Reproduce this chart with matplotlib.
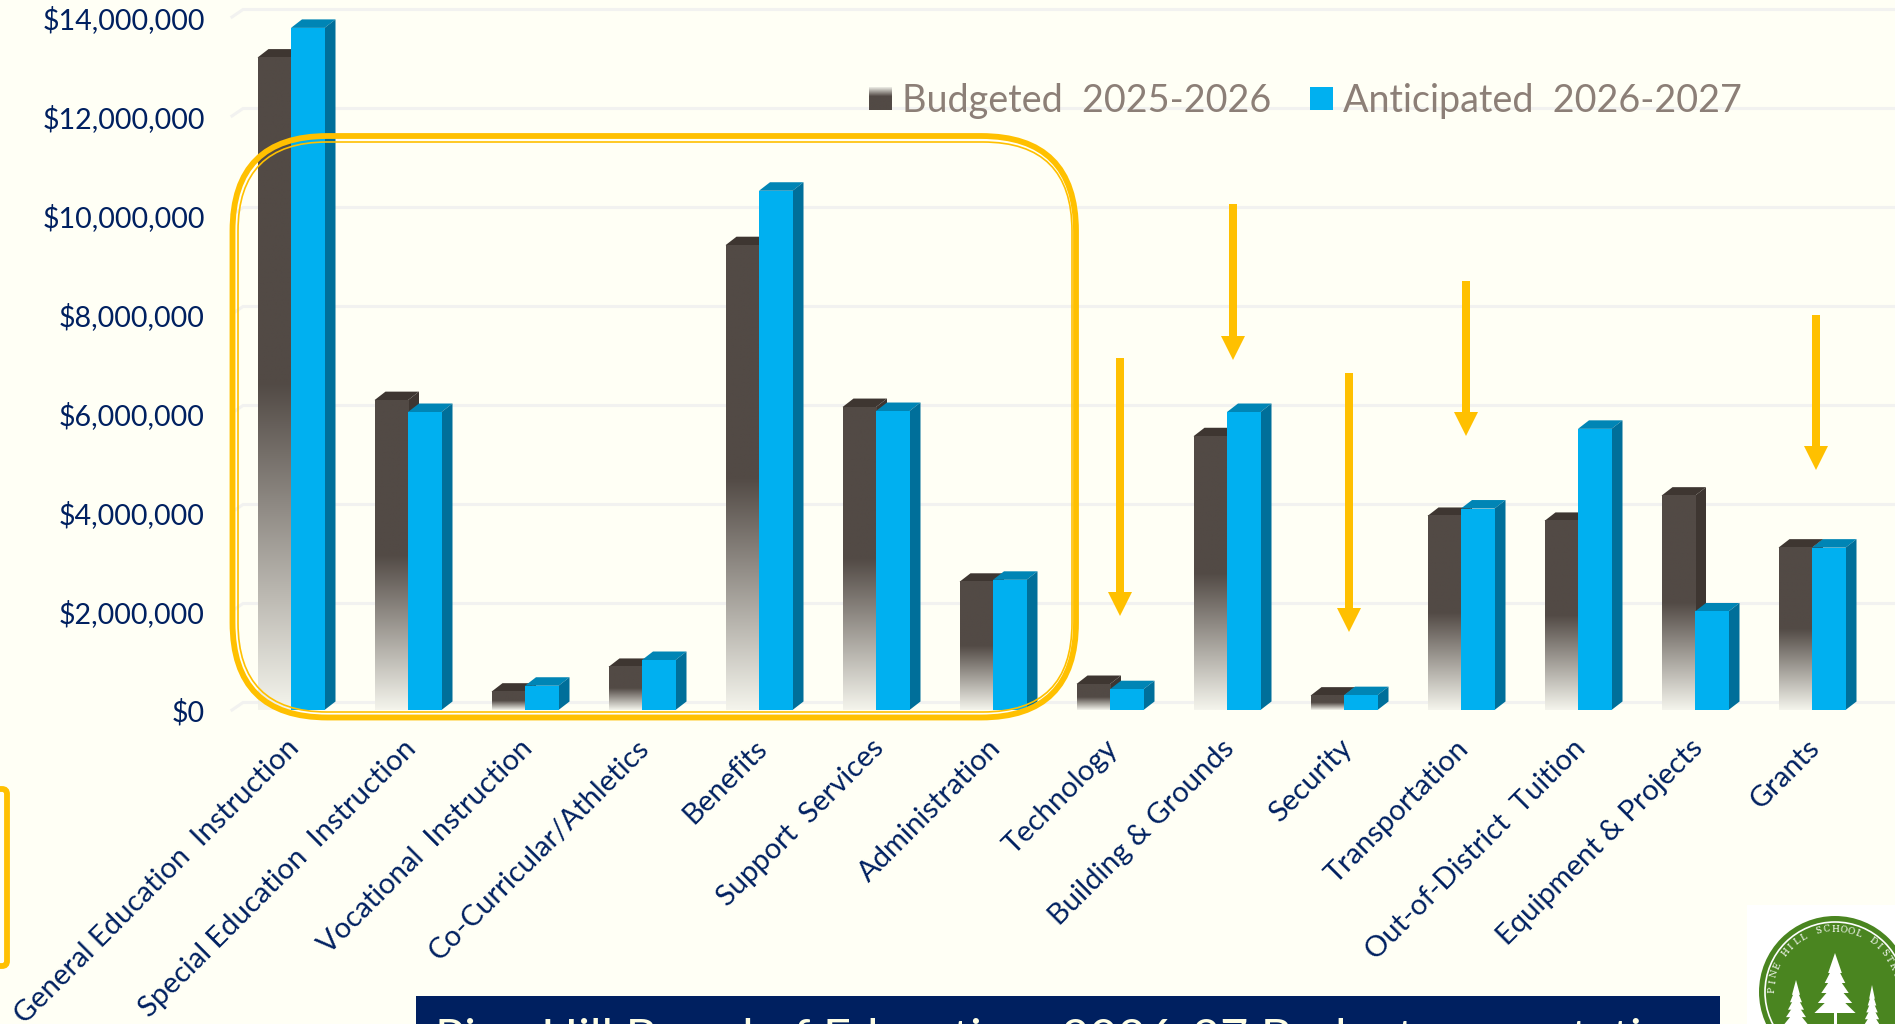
import numpy as np
import matplotlib
matplotlib.use('Agg')
import matplotlib.pyplot as plt
from matplotlib.colors import LinearSegmentedColormap
from matplotlib.patches import Circle, FancyBboxPatch, Polygon, Rectangle
from matplotlib.transforms import ScaledTranslation

categories = ['General Education  Instruction', 'Special Education  Instruction', 'Vocational  Instruction',
              'Co-Curricular/Athletics', 'Benefits', 'Support  Services', 'Administration', 'Technology',
              'Building & Grounds', 'Security', 'Transportation', 'Out-of-District  Tuition',
              'Equipment & Projects', 'Grants']
budgeted = [13180000, 6260000, 370000, 870000, 9390000, 6120000, 2590000,
            525000, 5530000, 290000, 3920000, 3820000, 4330000, 3280000]
anticipated = [13780000, 6020000, 490000, 1010000, 10490000, 6040000, 2630000,
               420000, 6020000, 300000, 4070000, 5680000, 1990000, 3280000]
yticks = [0, 2000000, 4000000, 6000000, 8000000, 10000000, 12000000, 14000000]
legend_labels = ['Budgeted  2025-2026', 'Anticipated  2026-2027']
banner_text = 'Pine Hill Board of Education  2026-27 Budget presentation'

# figure size and the pixel scale of the original slide
W, H = 1895, 1024
BG = '#FFFFF5'
NAVY = '#002060'
GOLD = '#FFC000'
DARK = '#524A45'
DARK_EDGE = '#3E3631'
BLUE = '#00B0F0'
BLUE_TOP = '#0085B5'
BLUE_SIDE = '#006F9A'
TAUPE = '#8C7F77'
plt.rcParams['font.family'] = ['Lato', 'DejaVu Sans']

px_per_cat = 117.0
px_per_dollar = 49.5e-6
x0_px = 291.0
base_px = 710.0
left_px = 232.0

fig = plt.figure(figsize=(W / 100, H / 100), dpi=100, facecolor=BG)
ax = fig.add_axes([left_px / W, (H - base_px) / H, (W - left_px) / W, base_px / H])
ax.set_facecolor('none')

bar_w = 33.5 / px_per_cat
dx = 11 / px_per_cat
dy = 8.5 / px_per_dollar
grid_dy = 7.5 / px_per_dollar

fade = LinearSegmentedColormap.from_list('fade', [(0, '#F4F4EC'), (0.5, DARK), (1, DARK)])
grad = np.linspace(0, 1, 256).reshape(-1, 1)


def box_3d(x_left, value, top_color, side_color, z):
    ax.add_patch(Polygon([(x_left, value), (x_left + dx, value + dy), (x_left + bar_w + dx, value + dy),
                          (x_left + bar_w, value)], color=top_color, lw=0, zorder=z))
    ax.add_patch(Polygon([(x_left + bar_w, 0), (x_left + bar_w + dx, dy), (x_left + bar_w + dx, value + dy),
                          (x_left + bar_w, value)], color=side_color, lw=0, zorder=z))


x = np.arange(len(categories))
xlim = ((left_px - x0_px) / px_per_cat, (W - x0_px) / px_per_cat)

# back wall gridlines with the small diagonal on the left
for v in yticks:
    ax.plot([xlim[0], xlim[0] + dx, xlim[1]], [v, v + grid_dy, v + grid_dy], color='#F2F2F0', lw=2.2, zorder=1, clip_on=False)

for i in x:
    box_3d(i - bar_w, budgeted[i], DARK_EDGE, DARK_EDGE, 2)
    ax.imshow(grad, extent=[i - bar_w, i, 0, budgeted[i]], cmap=fade, vmin=0, vmax=1,
              origin='lower', aspect='auto', zorder=3, interpolation='bilinear')
for i in x:
    box_3d(i, anticipated[i], BLUE_TOP, BLUE_SIDE, 4)
    ax.add_patch(Rectangle((i, 0), bar_w, anticipated[i], color=BLUE, lw=0, zorder=5))

ax.set_xlim(xlim)
ax.set_ylim(0, base_px / px_per_dollar)
for s in ax.spines.values():
    s.set_visible(False)
ax.set_yticks(yticks)
ax.set_yticklabels([f'${v:,}' for v in yticks], fontsize=20.6, color=NAVY)
ax.tick_params(axis='y', length=0, pad=19.5)
ax.set_xticks(x)
ax.set_xticklabels(categories, fontsize=21, color=NAVY, rotation=45, ha='right', va='top', rotation_mode='anchor')
ax.tick_params(axis='x', length=0, pad=18)
# nudges of the labels, in points
for lab in ax.get_xticklabels():
    lab.set_transform(lab.get_transform() + ScaledTranslation(-4 / 72, 0, fig.dpi_scale_trans))
for lab in ax.get_yticklabels():
    lab.set_transform(lab.get_transform() + ScaledTranslation(0, -0.5 / 72, fig.dpi_scale_trans))

# overlay in slide pixels for the callouts, legend, banner and logo
ov = fig.add_axes([0, 0, 1, 1], zorder=5)
ov.set_xlim(0, W)
ov.set_ylim(H, 0)
ov.axis('off')

ov.add_patch(FancyBboxPatch((232.5, 136), 843.5, 581.5, boxstyle='round,pad=0,rounding_size=95',
                            fc='none', ec=GOLD, lw=4.2))
ov.add_patch(FancyBboxPatch((238, 142), 834, 570, boxstyle='round,pad=0,rounding_size=89',
                            fc='none', ec=GOLD, lw=1.2))
ov.add_patch(FancyBboxPatch((-30, 789), 37, 177, boxstyle='round,pad=0,rounding_size=5',
                            fc='none', ec=GOLD, lw=4.2))

arrows = [(1120, 358, 616), (1233, 204, 360), (1349, 373, 632), (1466, 281, 436), (1816, 315, 470)]
for ax_x, y_top, y_tip in arrows:
    ov.add_patch(Polygon([(ax_x - 4, y_top), (ax_x + 4, y_top), (ax_x + 4, y_tip - 24), (ax_x + 12, y_tip - 24),
                          (ax_x, y_tip), (ax_x - 12, y_tip - 24), (ax_x - 4, y_tip - 24)], color=GOLD, lw=0))

# legend
ov.imshow(grad, extent=[869, 892, 110, 87], cmap=LinearSegmentedColormap.from_list(
    'lg', [(0, '#EFEFE7'), (0.4, DARK), (1, DARK)]), origin='upper', aspect='auto', vmin=0, vmax=1)
ov.add_patch(Rectangle((1310, 87), 23, 23, color=BLUE, lw=0))
ov.text(902, 101, legend_labels[0], fontsize=27.2, color=TAUPE, va='center', ha='left')
ov.text(1343, 101, legend_labels[1], fontsize=27.2, color=TAUPE, va='center', ha='left')

# banner cut by the bottom edge
ov.add_patch(Rectangle((416, 996), 1304, 40, color=NAVY, lw=0))
ov.text(435, 1054, banner_text, fontsize=35, color='#FFFFE5', va='baseline', ha='left', clip_on=True)

# logo
ov.add_patch(Rectangle((1747, 905), 150, 125, color='white', lw=0))
cx, cy, r = 1835, 992, 76
ov.add_patch(Circle((cx, cy), r, color='#4A8520', lw=0))
ov.add_patch(Circle((cx, cy), r - 6, fc='none', ec='white', lw=1.2))
seal = 'PINE HILL SCHOOL DISTRICT'
angles = np.linspace(-88, 88, len(seal))
for ch, a in zip(seal, angles):
    t = np.radians(a)
    ov.text(cx + (r - 13) * np.sin(t), cy - (r - 13) * np.cos(t), ch, fontsize=6.5, color='white',
            rotation=-a, rotation_mode='anchor', ha='center', va='center', family='DejaVu Serif')
for tx, ty, tw, th in [(1835, 953, 24, 70), (1796, 980, 14, 52), (1872, 985, 10, 48)]:
    for k in range(5):
        ov.add_patch(Polygon([(tx, ty + k * th / 7), (tx + tw * (k + 2) / 7, ty + (k + 2) * th / 7),
                              (tx - tw * (k + 2) / 7, ty + (k + 2) * th / 7)], color='white', lw=0))
    ov.add_patch(Rectangle((tx - 1.5, ty + th * 0.8), 3, th * 0.3, color='white', lw=0))
ov.set_xlim(0, W)
ov.set_ylim(H, 0)

fig.savefig('out.png', dpi=100, facecolor=BG)
